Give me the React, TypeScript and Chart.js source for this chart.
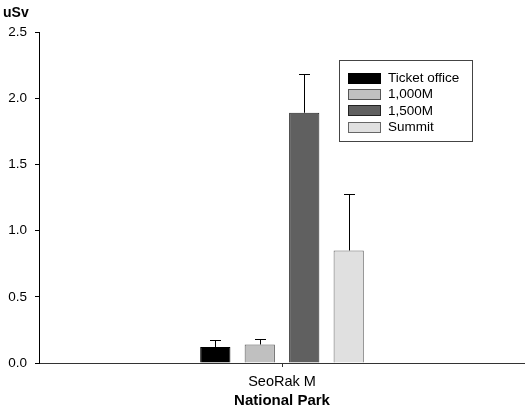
import React, { useEffect, useRef } from "react";
import { Chart, registerables } from "chart.js";

Chart.register(...registerables);

const categories = ["SeoRak M"];
const seriesNames = ["Ticket office", "1,000M", "1,500M", "Summit"];
const seriesValues = [[0.12], [0.14], [1.89], [0.85]];
const seriesErrors = [[0.05], [0.045], [0.29], [0.43]];
const fillColors = ["#000000", "#c0c0c0", "#606060", "#e0e0e0"];
const edgeColors = ["#000000", "#555555", "#222222", "#666666"];
const yTicks = [0, 0.5, 1.0, 1.5, 2.0, 2.5];
const yTitle = "uSv";
const xTitle = "National Park";

const FONT = "Arial, 'Liberation Sans', Helvetica, sans-serif";

const errorBarPlugin = {
  id: "errorBars",
  afterDatasetsDraw(chart: any) {
    const ctx = chart.ctx;
    const yScale = chart.scales.y;
    ctx.save();
    ctx.strokeStyle = "#000";
    ctx.lineWidth = 1;
    chart.data.datasets.forEach((ds: any, i: number) => {
      const meta = chart.getDatasetMeta(i);
      meta.data.forEach((bar: any, j: number) => {
        const v = ds.data[j];
        const e = seriesErrors[i][j];
        const x = Math.round(bar.x) + 0.5;
        const yb = yScale.getPixelForValue(v);
        const yt = Math.round(yScale.getPixelForValue(v + e)) + 0.5;
        ctx.beginPath();
        ctx.moveTo(x, yb);
        ctx.lineTo(x, yt);
        ctx.moveTo(x - 5.5, yt);
        ctx.lineTo(x + 5.5, yt);
        ctx.stroke();
      });
    });
    ctx.restore();
  },
};

const decorPlugin = {
  id: "decor",
  afterDraw(chart: any) {
    const ctx = chart.ctx;
    ctx.save();
    // y title
    ctx.fillStyle = "#000";
    ctx.font = `bold 14px ${FONT}`;
    ctx.textBaseline = "middle";
    ctx.textAlign = "left";
    ctx.fillText(yTitle, 3, 13);
    // legend box
    const bx = 339.5, by = 60.5, bw = 133, bh = 81;
    ctx.strokeStyle = "#444";
    ctx.lineWidth = 1;
    ctx.fillStyle = "#fff";
    ctx.fillRect(bx, by, bw, bh);
    ctx.strokeRect(bx, by, bw, bh);
    ctx.font = `13.5px ${FONT}`;
    chart.data.datasets.forEach((ds: any, i: number) => {
      const cy = 77.5 + i * 16.4;
      ctx.fillStyle = ds.backgroundColor;
      ctx.fillRect(348.5, Math.round(cy - 5) + 0.5, 32, 10);
      ctx.strokeStyle = ds.borderColor;
      ctx.strokeRect(348.5, Math.round(cy - 5) + 0.5, 32, 10);
      ctx.fillStyle = "#000";
      ctx.fillText(ds.label, 388, cy + 0.5);
    });
    ctx.restore();
  },
};

export default function App() {
  const ref = useRef<HTMLCanvasElement | null>(null);
  useEffect(() => {
    if (!ref.current) return;
    const chart = new Chart(ref.current, {
      type: "bar",
      data: {
        labels: categories,
        datasets: seriesNames.map((name, i) => ({
          label: name,
          data: seriesValues[i],
          backgroundColor: fillColors[i],
          borderColor: edgeColors[i],
          borderWidth: 1,
          categoryPercentage: 0.366,
          barPercentage: 0.68,
        })),
      },
      options: {
        responsive: false,
        animation: false,
        devicePixelRatio: 1,
        layout: { padding: { top: 32, left: 0, right: 0, bottom: 0 } },
        plugins: {
          legend: { display: false },
          tooltip: { enabled: false },
          title: { display: false },
        },
        scales: {
          x: {
            type: "category",
            offset: true,
            grid: {
              display: true,
              drawOnChartArea: false,
              drawTicks: true,
              tickLength: 4,
              offset: false,
              color: "#333",
            },
            border: { display: true, color: "#333", width: 1 },
            ticks: {
              color: "#000",
              font: { family: FONT, size: 14.5 },
              padding: 6,
            },
            title: {
              display: true,
              text: xTitle,
              color: "#000",
              font: { family: FONT, size: 15, weight: "bold", lineHeight: 1.1 },
              padding: { top: 0, bottom: 0 },
            },
            afterFit(scale: any) {
              scale.height = 46;
            },
          },
          y: {
            min: 0,
            max: 2.5,
            afterBuildTicks(scale: any) {
              scale.ticks = yTicks.map((v) => ({ value: v }));
            },
            grid: {
              display: true,
              drawOnChartArea: false,
              drawTicks: true,
              tickLength: 4,
              color: "#000",
            },
            border: { display: true, color: "#000", width: 1 },
            ticks: {
              color: "#000",
              font: { family: FONT, size: 13.5 },
              padding: 8,
              callback: (v: any) => Number(v).toFixed(1),
            },
            afterFit(scale: any) {
              scale.width = 39;
            },
          },
        },
      },
      plugins: [errorBarPlugin, decorPlugin],
    });
    return () => chart.destroy();
  }, []);
  return (
    <div style={{ position: "absolute", left: 0, top: 0, width: 525, height: 409, background: "#fff" }}>
      <canvas ref={ref} width={525} height={409} />
    </div>
  );
}
